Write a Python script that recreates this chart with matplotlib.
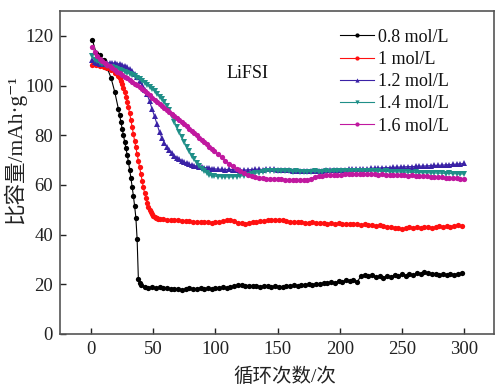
import numpy as np
import matplotlib
matplotlib.use("Agg")
import matplotlib.pyplot as plt

plt.rcParams['font.family'] = ['Liberation Serif', 'Noto Sans CJK SC', 'DejaVu Serif']

# ---- specific capacity (mAh/g) vs. cycle number ----
# each series is stored as segments: (first cycle, cycle step, values)

# 0.8 mol/L
black_head = [118.5, 113.2, 112.3, 110.2, 107.0, 103.2, 97.5]           # cycles 1,4,...
black_drop = [90.5, 88.0, 85.3, 82.6, 80.0, 77.4, 74.8, 72.2, 69.3, 66.2,
              62.8, 59.3, 55.6, 51.5, 46.8, 38.2, 22.3, 20.6]               # cycles 22..39
black_tail = [19.6, 19.0, 18.7, 18.9, 18.6, 18.8, 18.4, 18.6, 18.2, 18.0,
              18.3, 17.8, 18.1, 18.4, 18.0, 18.3, 18.5, 18.1, 18.4, 18.2,
              18.6, 18.4, 18.8, 18.6, 19.0, 19.3, 19.6, 19.8, 19.4, 19.2,
              19.5, 19.3, 19.1, 19.4, 19.2, 19.0, 19.3, 19.1, 18.9, 19.4,
              19.2, 19.6, 19.4, 19.9, 19.6, 20.0, 19.8, 20.3, 20.1, 20.6,
              20.4, 20.9, 20.7, 21.3, 21.0, 21.6, 21.2, 21.8, 20.9, 23.4,
              23.8, 23.2, 23.6, 22.9, 23.3, 22.6, 23.4, 23.0, 23.8, 23.2,
              24.0, 23.5, 24.2, 23.6, 24.4, 24.0, 25.0, 24.6, 24.3, 24.0,
              23.7, 24.1, 23.8, 24.2, 23.9, 24.3, 24.5]                     # cycles 40.. step 3

# 1 mol/L
red_head = [108.5, 108.2, 107.8, 107.4, 107.0, 106.3, 105.3]              # cycles 1,4,...
red_drop = [104.0, 103.0, 101.8, 100.5, 99.2, 97.5, 95.6, 93.5, 91.3, 88.8,
            86.2, 83.4, 80.5, 77.8, 75.1, 72.4, 69.8, 67.1, 64.5, 61.8,
            59.1, 56.8, 54.8, 52.9, 51.3, 50.0, 49.0, 48.2, 47.6, 47.1,
            46.8, 46.6, 46.4, 46.3]                                          # cycles 22..55
red_tail = [46.2, 46.0, 45.8, 45.9, 46.1, 45.6, 45.3, 45.5, 45.2, 45.0,
            45.1, 44.9, 45.0, 44.8, 44.9, 45.1, 45.4, 45.8, 46.0, 45.6,
            44.8, 44.6, 44.4, 44.8, 45.2, 45.0, 45.3, 45.6, 45.8, 46.0,
            45.9, 46.1, 45.8, 45.5, 45.2, 45.0, 44.9, 45.1, 44.8, 44.7,
            44.9, 44.6, 44.5, 44.7, 44.4, 44.5, 44.3, 44.6, 44.4, 44.2,
            44.3, 44.1, 44.2, 44.0, 44.1, 43.9, 43.8, 43.6, 43.7, 43.4,
            43.2, 43.0, 42.7, 42.5, 42.3, 42.6, 43.0, 42.8, 43.1, 42.7,
            42.9, 43.2, 42.8, 43.0, 43.3, 43.1, 43.4, 43.2, 43.5, 43.7,
            43.4]                                                            # cycles 58.. step 3

# 1.2 mol/L
blue_head = [110.5, 109.5, 109.0, 108.8, 108.6, 108.8, 109.0, 109.3, 109.2, 109.0,
             108.9, 108.7, 108.5, 108.0, 107.4, 106.7, 105.9, 104.8, 103.5, 102.0,
             100.2, 98.4, 96.5, 93.8, 90.6, 87.6, 84.5, 81.3, 78.8, 76.9,
             75.3, 74.0, 72.8, 71.8, 71.0, 70.3, 69.7, 69.2, 68.7, 68.3,
             68.0, 67.8, 67.6, 67.4, 67.2, 67.0, 66.9, 66.8, 66.6, 66.5]   # cycles 1..99 step 2
blue_tail = [66.4, 66.3, 66.2, 66.3, 66.2, 66.0, 65.9, 66.0, 66.1, 66.2,
             66.3, 66.4, 66.2, 66.4, 66.5, 66.3, 66.2, 66.1, 66.0, 65.9,
             65.8, 65.7, 65.6, 65.6, 65.5, 65.6, 65.7, 65.8, 65.8, 65.9,
             66.0, 66.0, 66.1, 66.2, 66.2, 66.3, 66.4, 66.4, 66.5, 66.6,
             66.6, 66.7, 66.8, 66.8, 66.9, 67.0, 67.0, 67.1, 67.2, 67.2,
             67.3, 67.4, 67.4, 67.5, 67.6, 67.6, 67.7, 67.8, 67.9, 67.9,
             68.0, 68.1, 68.2, 68.3, 68.4, 68.5, 68.7]                     # cycles 102.. step 3

# 1.4 mol/L
teal_head = [112.0, 110.5, 109.8, 109.3, 108.8, 108.4, 108.0, 107.7, 107.4, 107.1,
             106.8, 106.5, 106.1, 105.7, 105.3, 104.8, 104.3, 103.8, 103.2, 102.6,
             101.9, 101.2, 100.4, 99.6, 98.7, 97.8, 96.8, 95.6, 94.6, 93.5,
             92.0, 90.0, 87.8, 85.5, 83.3, 81.2, 79.2, 77.2, 75.3, 73.5,
             71.8, 70.3, 68.9, 67.6, 66.5, 65.6, 64.8, 64.2, 63.8, 63.6]   # cycles 1..99 step 2
teal_tail = [63.4, 63.3, 63.3, 63.2, 63.3, 63.4, 63.6, 63.8, 64.1, 64.4,
             64.7, 65.0, 65.2, 65.5, 65.7, 65.8, 65.6, 65.7, 65.5, 65.6,
             65.4, 65.5, 65.3, 65.4, 65.3, 65.4, 65.5, 65.3, 65.4, 65.5,
             65.4, 65.5, 65.6, 65.5, 65.6, 65.5, 65.6, 65.7, 65.6, 65.7,
             65.6, 65.7, 65.5, 65.6, 65.4, 65.5, 65.3, 65.4, 65.2, 65.3,
             65.1, 65.2, 65.0, 65.1, 65.0, 64.9, 65.0, 64.8, 64.9, 64.7,
             64.8, 64.6, 64.7, 64.5, 64.6, 64.4, 64.5]                     # cycles 102.. step 3

# 1.6 mol/L
mag_head = [115.5, 113.5, 112.0, 110.9, 110.0, 109.2, 108.5, 107.8, 107.1, 106.4,
            105.7, 105.0, 104.3, 103.6, 102.9, 102.2, 101.5, 100.8, 100.1, 99.4,
            98.6, 97.8, 97.0, 96.1, 95.2, 94.3, 93.4, 92.5, 91.7, 90.9,
            90.1, 89.3, 88.5, 87.7, 86.9, 86.1, 85.3, 84.5, 83.6, 82.7,
            81.8, 80.9, 80.0, 79.1, 78.2, 77.3, 76.4, 75.5, 74.6, 73.7]    # cycles 1..99 step 2
mag_tail = [72.4, 71.1, 69.8, 68.6, 67.5, 66.5, 65.6, 64.8, 64.1, 63.6,
            63.2, 62.9, 62.7, 62.6, 62.5, 62.4, 62.4, 62.3, 62.2, 62.2,
            62.1, 62.0, 62.0, 61.9, 62.0, 62.6, 63.2, 63.6, 63.8, 63.9,
            64.0, 64.1, 64.2, 64.2, 64.3, 64.4, 64.4, 64.3, 64.4, 64.5,
            64.4, 64.3, 64.4, 64.2, 64.3, 64.1, 64.2, 64.0, 64.1, 63.9,
            64.0, 63.8, 63.9, 63.7, 63.8, 63.6, 63.5, 63.4, 63.3, 63.2,
            63.1, 63.0, 62.9, 62.8, 62.7, 62.6, 62.5]                      # cycles 102.. step 3

labels = ['0.8 mol/L', '1 mol/L', '1.2 mol/L', '1.4 mol/L', '1.6 mol/L']
colors = ['#000000', '#ff1010', '#3a22a6', '#1f8f88', '#c0189f']
markers = ['o', 'o', '^', 'v', 'o']

segments = [
    [(1, 3, black_head), (22, 1, black_drop), (40, 3, black_tail)],
    [(1, 3, red_head), (22, 1, red_drop), (58, 3, red_tail)],
    [(1, 2, blue_head), (102, 3, blue_tail)],
    [(1, 2, teal_head), (102, 3, teal_tail)],
    [(1, 2, mag_head), (102, 3, mag_tail)],
]


def assemble(segs):
    cyc, cap = [], []
    for start, step, vals in segs:
        cyc.extend(start + step * np.arange(len(vals)))
        cap.extend(vals)
    return np.array(cyc), np.array(cap)


fig = plt.figure(figsize=(4.96, 3.85), dpi=100)
ax = fig.add_axes([0.121, 0.1325, 0.875, 0.8385])

for segs, lab, col, mk in zip(segments, labels, colors, markers):
    x, y = assemble(segs)
    ax.plot(x, y, color=col, lw=0.8, marker=mk, ms=3.8, mew=0, label=lab)

ax.set_xlim(-25, 324)
ax.set_ylim(0, 130)
ax.set_xticks([0, 50, 100, 150, 200, 250, 300])
ax.set_yticks([0, 20, 40, 60, 80, 100, 120])
ax.tick_params(direction='in', length=4, width=1, labelsize=13.5, colors='#222222',
               top=False, right=False, pad=5)
for sp in ax.spines.values():
    sp.set_color('#555555')
    sp.set_linewidth(1.2)

ax.text(109, 105, 'LiFSI', fontsize=13, ha='left', va='center', color='#111111')

ax.set_xlabel('循环次数/次', fontsize=14, color='#222222')
ax.xaxis.set_label_coords(0.518, -0.102)
ax.set_ylabel('比容量/mAh·g⁻¹', fontsize=15.5, color='#222222')
ax.yaxis.set_label_coords(-0.078, 0.57)

leg = ax.legend(loc='upper left', bbox_to_anchor=(0.616, 0.985), frameon=False,
                fontsize=13, handlelength=1.9, handletextpad=0.2, labelspacing=0.29,
                markerscale=0.8, borderaxespad=0.3)
for t in leg.get_texts():
    t.set_color('#111111')

fig.savefig('out.png', dpi=100)
